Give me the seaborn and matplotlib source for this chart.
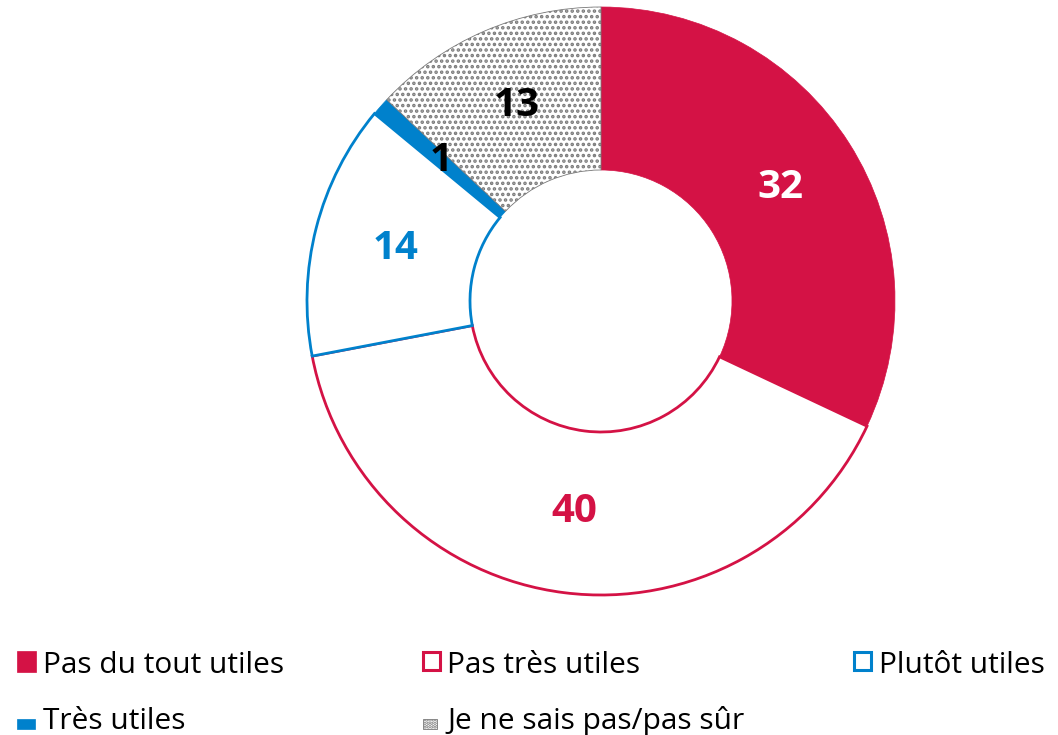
import matplotlib
matplotlib.use("Agg")
import matplotlib.pyplot as plt
from matplotlib.patches import Rectangle
import numpy as np
import seaborn as sns

# Survey answers (percent)
categories = ["Pas du tout utiles", "Pas très utiles", "Plutôt utiles",
              "Très utiles", "Je ne sais pas/pas sûr"]
values = [32, 40, 14, 1, 13]

CRIMSON = "#D41245"
BLUE = "#0081CC"
GREY = "#7A7A7A"

sns.set_theme(style="white")
plt.rcParams["font.family"] = ["Open Sans", "DejaVu Sans"]
plt.rcParams["hatch.linewidth"] = 1.7

W, H = 1058, 735
fig = plt.figure(figsize=(W / 100, H / 100), dpi=100)
ax = fig.add_axes([0, 0, 1, 1])

# ring geometry in pixel units (axes spans the whole figure 1:1)
cx, cy = 601, H - 301
R_out, ring = 294, 163

wedges, _ = ax.pie(values, startangle=90, counterclock=False,
                   center=(cx, cy), radius=R_out,
                   wedgeprops=dict(width=ring))

# per-slice styling: (face, edge, linewidth, hatch)
styles = [
    (CRIMSON, CRIMSON, 0.5, None),
    ("white", CRIMSON, 2.0, None),
    ("white", BLUE, 2.0, None),
    (BLUE, BLUE, 0.5, None),
    ("white", GREY, 0.6, "..."),
]
for w, (fc, ec, lw, hatch) in zip(wedges, styles):
    w.set_facecolor(fc)
    w.set_edgecolor(ec)
    w.set_linewidth(lw)
    if hatch:
        w.set_hatch(hatch)
wedges[2].set_zorder(3)

# value labels at the middle of each ring segment
label_colors = ["white", CRIMSON, BLUE, "black", "black"]
r_mid = R_out - ring / 2
for w, v, c in zip(wedges, values, label_colors):
    ang = np.deg2rad((w.theta1 + w.theta2) / 2)
    ax.text(cx + r_mid * np.cos(ang), cy + r_mid * np.sin(ang), f"{v}",
            ha="center", va="center", fontsize=29, fontweight="bold",
            color=c, zorder=5)

ax.set_xlim(0, W)
ax.set_ylim(0, H)
ax.set_aspect("equal")
ax.axis("off")

# legend: swatch (left, top, width, height) in pixels from the top-left corner
legend_layout = [
    ((17, 651, 19, 21), 43, 673),
    ((423, 652, 17, 18), 447, 673),
    ((854, 652, 17, 18), 879, 673),
    ((17, 719, 18, 10), 43, 729),
    ((423, 719, 14, 10), 447, 729),
]
swatch_styles = [
    dict(facecolor=CRIMSON, edgecolor=CRIMSON, linewidth=0.5),
    dict(facecolor="white", edgecolor=CRIMSON, linewidth=2.2),
    dict(facecolor="white", edgecolor=BLUE, linewidth=2.2),
    dict(facecolor=BLUE, edgecolor=BLUE, linewidth=0.5),
    dict(facecolor="white", edgecolor=GREY, linewidth=0.6, hatch="....."),
]
for name, ((sx, sy, sw, sh), tx, ty), st in zip(categories, legend_layout, swatch_styles):
    ax.add_patch(Rectangle((sx, H - sy - sh), sw, sh, clip_on=False, **st))
    ax.text(tx, H - ty, name, ha="left", va="baseline", fontsize=21.5,
            color="black")

fig.savefig("out.png", dpi=100)
